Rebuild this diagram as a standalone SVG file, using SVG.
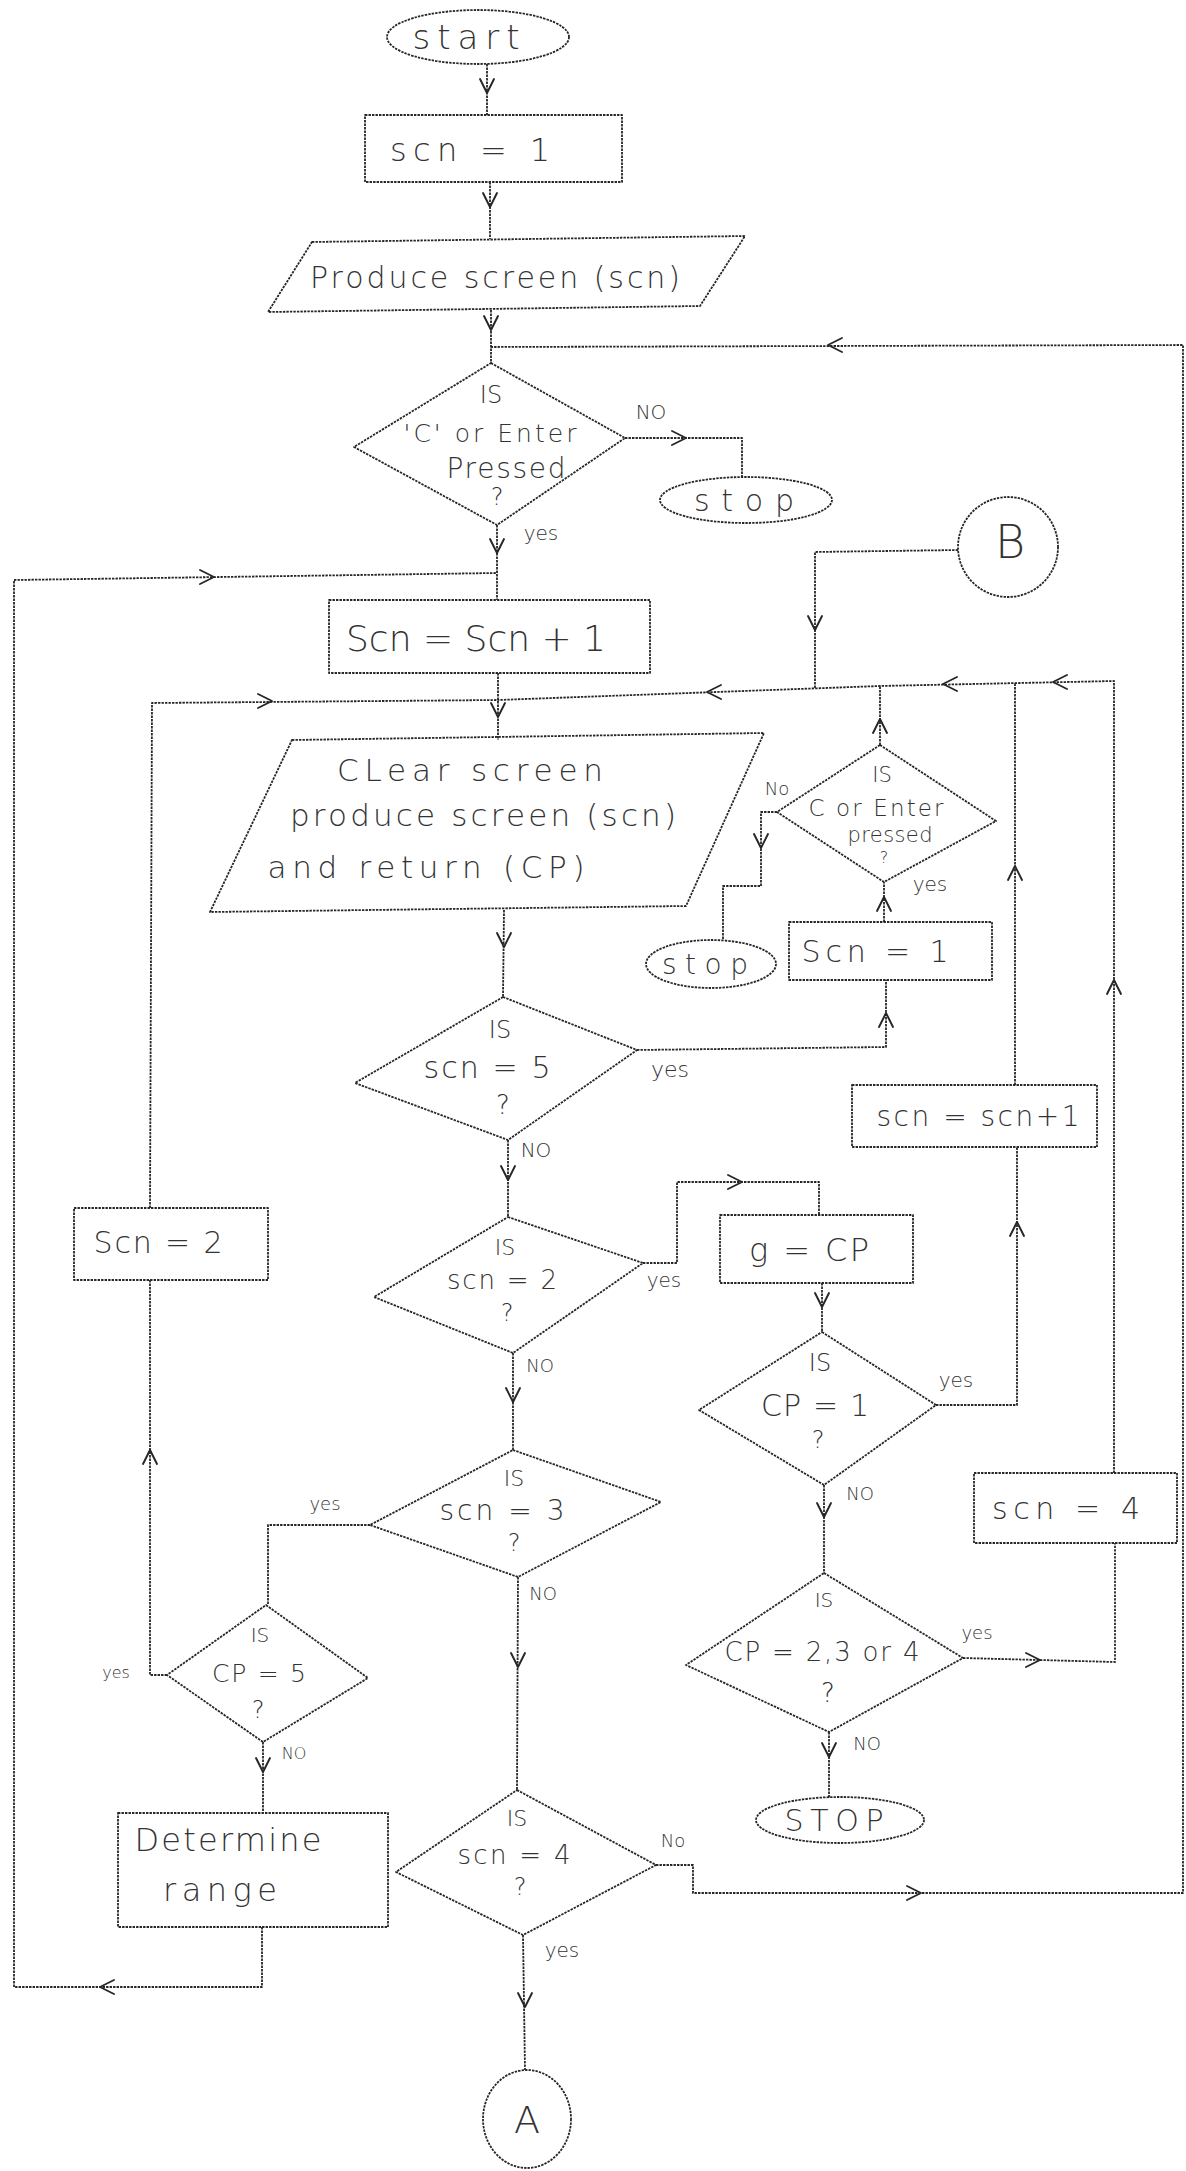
<svg xmlns="http://www.w3.org/2000/svg" xmlns:xlink="http://www.w3.org/1999/xlink" width="1186" height="2171" viewBox="0 0 1186 2171">
  <style>
    .shape { fill: none; stroke: #262626; stroke-width: 1.8; stroke-dasharray: 2.4 1.1; stroke-linejoin: round; }
    .wire { fill: none; stroke: #262626; stroke-width: 1.8; stroke-dasharray: 2.4 1.1; stroke-linejoin: round; }
    .chev { fill: none; stroke: #262626; stroke-width: 1.9; stroke-linecap: round; stroke-linejoin: round; }
    text { font-family: "DejaVu Sans", "Liberation Sans", sans-serif; font-weight: 300; fill: #333333; text-anchor: middle; dominant-baseline: central; }
    .lbl { font-size: 20px; }
  </style>
  <defs>
    <!-- open chevron, tip at origin, pointing down -->
    <path id="chev" class="chev" d="M-7,-14 L0,0 L7,-14"/>
  </defs>
  <rect width="1186" height="2171" fill="#ffffff"/>

  <!-- connectors -->
  <g id="connectors">
    <path class="wire" d="M487,64 L487,115"/>
    <use xlink:href="#chev" transform="translate(487,93)"/>
    <path class="wire" d="M490,182 L490,239"/>
    <use xlink:href="#chev" transform="translate(490,207)"/>
    <path class="wire" d="M491,310 L491,363"/>
    <use xlink:href="#chev" transform="translate(491,330)"/>

    <!-- scn = 4 "No" branch back round the right edge to the first test -->
    <path class="wire" d="M656,1865 L693,1865 L693,1893 L1183,1893 L1183,345 L491,347"/>
    <use xlink:href="#chev" transform="translate(921,1893) rotate(-90)"/>
    <use xlink:href="#chev" transform="translate(828,345) rotate(90)"/>

    <!-- first test: No -> stop -->
    <path class="wire" d="M625,438 L742,438 L742,477"/>
    <use xlink:href="#chev" transform="translate(686,438) rotate(-90)"/>
    <!-- first test: yes -> scn = scn + 1 -->
    <path class="wire" d="M497,525 L497,600"/>
    <use xlink:href="#chev" transform="translate(497,553)"/>

    <!-- Determine range -> back round the left edge -->
    <path class="wire" d="M262,1927 L262,1987 L14,1987 L14,580 L497,573"/>
    <use xlink:href="#chev" transform="translate(100,1987) rotate(90)"/>
    <use xlink:href="#chev" transform="translate(214,577) rotate(-90)"/>

    <!-- scn = scn + 1 -> clear screen -->
    <path class="wire" d="M498,673 L498,740"/>
    <use xlink:href="#chev" transform="translate(498,717)"/>

    <!-- CP = 5 yes -> scn = 2 -> join above clear screen -->
    <path class="wire" d="M167,1675 L150,1675 L150,1280"/>
    <use xlink:href="#chev" transform="translate(150,1450) rotate(180)"/>
    <path class="wire" d="M150,1208 L152,703 L498,700"/>
    <use xlink:href="#chev" transform="translate(272,701) rotate(-90)"/>

    <!-- connector B -->
    <path class="wire" d="M958,550 L815,552 L815,688"/>
    <use xlink:href="#chev" transform="translate(815,630)"/>

    <!-- CP = 2,3 or 4 yes -> scn = 4 -> top return line -->
    <path class="wire" d="M963,1658 L1115,1662 L1115,1543"/>
    <use xlink:href="#chev" transform="translate(1040,1660) rotate(-90)"/>
    <path class="wire" d="M1114,1473 L1114,681 L880,686 L498,700"/>
    <use xlink:href="#chev" transform="translate(1114,980) rotate(180)"/>
    <use xlink:href="#chev" transform="translate(1053,682) rotate(90)"/>
    <use xlink:href="#chev" transform="translate(943,684) rotate(90)"/>
    <use xlink:href="#chev" transform="translate(707,692) rotate(90)"/>

    <!-- scn = scn+1 (right) -> return line -->
    <path class="wire" d="M1015,1085 L1015,683"/>
    <use xlink:href="#chev" transform="translate(1015,866) rotate(180)"/>
    <!-- CP = 1 yes -> scn = scn+1 -->
    <path class="wire" d="M936,1405 L1017,1405 L1017,1147"/>
    <use xlink:href="#chev" transform="translate(1017,1222) rotate(180)"/>

    <!-- C or Enter test -->
    <path class="wire" d="M880,745 L880,686"/>
    <use xlink:href="#chev" transform="translate(880,719) rotate(180)"/>
    <path class="wire" d="M777,812 L761,812 L761,886 L723,886 L723,940"/>
    <use xlink:href="#chev" transform="translate(761,848)"/>
    <path class="wire" d="M884,922 L884,882"/>
    <use xlink:href="#chev" transform="translate(884,897) rotate(180)"/>

    <!-- scn = 5 yes -> Scn = 1 -->
    <path class="wire" d="M637,1050 L886,1047 L886,980"/>
    <use xlink:href="#chev" transform="translate(886,1013) rotate(180)"/>

    <!-- main column -->
    <path class="wire" d="M504,910 L503,997"/>
    <use xlink:href="#chev" transform="translate(504,947)"/>
    <path class="wire" d="M508,1140 L508,1217"/>
    <use xlink:href="#chev" transform="translate(508,1180)"/>
    <path class="wire" d="M513,1353 L513,1450"/>
    <use xlink:href="#chev" transform="translate(513,1402)"/>
    <path class="wire" d="M518,1577 L517,1790"/>
    <use xlink:href="#chev" transform="translate(518,1667)"/>
    <path class="wire" d="M523,1935 L525,2070"/>
    <use xlink:href="#chev" transform="translate(525,2007)"/>

    <!-- scn = 2 yes -> g = CP -->
    <path class="wire" d="M643,1263 L677,1263 L677,1182 L819,1182 L819,1215"/>
    <use xlink:href="#chev" transform="translate(742,1182) rotate(-90)"/>
    <path class="wire" d="M822,1283 L822,1332"/>
    <use xlink:href="#chev" transform="translate(822,1307)"/>
    <path class="wire" d="M824,1485 L824,1573"/>
    <use xlink:href="#chev" transform="translate(824,1517)"/>
    <path class="wire" d="M829,1732 L829,1798"/>
    <use xlink:href="#chev" transform="translate(829,1757)"/>

    <!-- scn = 3 yes -> CP = 5 -> Determine range -->
    <path class="wire" d="M370,1525 L268,1525 L268,1605"/>
    <path class="wire" d="M263,1742 L263,1813"/>
    <use xlink:href="#chev" transform="translate(263,1772)"/>

    <!-- branch labels -->
    <text class="lbl" x="651" y="412">NO</text>
    <text class="lbl" x="541" y="533">yes</text>
    <text class="lbl" x="777" y="788" style="font-size:18px">No</text>
    <text class="lbl" x="930" y="884">yes</text>
    <text class="lbl" x="670" y="1069" style="font-size:22px">yes</text>
    <text class="lbl" x="536" y="1150">NO</text>
    <text class="lbl" x="664" y="1280">yes</text>
    <text class="lbl" x="540" y="1365" style="font-size:18px">NO</text>
    <text class="lbl" x="956" y="1380">yes</text>
    <text class="lbl" x="860" y="1493" style="font-size:18px">NO</text>
    <text class="lbl" x="325" y="1503" style="font-size:18px">yes</text>
    <text class="lbl" x="543" y="1593" style="font-size:18px">NO</text>
    <text class="lbl" x="116" y="1672" style="font-size:16px">yes</text>
    <text class="lbl" x="294" y="1753" style="font-size:16px">NO</text>
    <text class="lbl" x="977" y="1632" style="font-size:18px">yes</text>
    <text class="lbl" x="867" y="1743" style="font-size:18px">NO</text>
    <text class="lbl" x="673" y="1840" style="font-size:18px">No</text>
    <text class="lbl" x="562" y="1950">yes</text>
  </g>

  <!-- nodes -->
  <g id="start">
    <ellipse class="shape" cx="478" cy="37" rx="91" ry="27"/>
    <text x="466" y="37" font-size="34" textLength="107" lengthAdjust="spacing">start</text>
  </g>
  <g id="set-scn-1">
    <rect class="shape" x="365" y="115" width="257" height="67"/>
    <text x="470" y="150" font-size="32" textLength="160" lengthAdjust="spacing">scn = 1</text>
  </g>
  <g id="produce-screen">
    <polygon class="shape" points="312,242 745,236 700,306 268,312"/>
    <text x="495" y="277" font-size="30" textLength="370" lengthAdjust="spacing">Produce screen (scn)</text>
  </g>
  <g id="test-c-enter">
    <polygon class="shape" points="491,363 625,438 497,525 354,447"/>
    <text x="491" y="395" font-size="24">IS</text>
    <text x="490" y="433" font-size="25" textLength="173" lengthAdjust="spacing">'C' or Enter</text>
    <text x="506" y="468" font-size="28" textLength="119" lengthAdjust="spacing">Pressed</text>
    <text x="497" y="497" font-size="24">?</text>
  </g>
  <g id="stop-1">
    <ellipse class="shape" cx="746" cy="500" rx="86" ry="23"/>
    <text x="744" y="500" font-size="30" textLength="100" lengthAdjust="spacing">stop</text>
  </g>
  <g id="scn-inc">
    <rect class="shape" x="329" y="600" width="321" height="73"/>
    <text x="476" y="638" font-size="36" textLength="260" lengthAdjust="spacing">Scn = Scn + 1</text>
  </g>
  <g id="clear-screen">
    <polygon class="shape" points="292,740 764,733 686,906 210,912"/>
    <text x="470" y="770" font-size="31" textLength="266" lengthAdjust="spacing">CLear screen</text>
    <text x="483" y="815" font-size="31" textLength="386" lengthAdjust="spacing">produce screen (scn)</text>
    <text x="426" y="867" font-size="31" textLength="317" lengthAdjust="spacing">and return (CP)</text>
  </g>
  <g id="connector-b">
    <circle class="shape" cx="1008" cy="547" r="50"/>
    <text x="1010" y="542" font-size="46">B</text>
  </g>
  <g id="test-c-enter-2">
    <polygon class="shape" points="880,745 996,821 884,882 777,812"/>
    <text x="882" y="775" font-size="21">IS</text>
    <text x="876" y="808" font-size="23" textLength="135" lengthAdjust="spacing">C or Enter</text>
    <text x="890" y="835" font-size="21" textLength="85" lengthAdjust="spacing">pressed</text>
    <text x="884" y="857" font-size="16">?</text>
  </g>
  <g id="stop-2">
    <ellipse class="shape" cx="711" cy="964" rx="65" ry="24"/>
    <text x="705" y="964" font-size="28" textLength="86" lengthAdjust="spacing">stop</text>
  </g>
  <g id="reset-scn-1">
    <rect class="shape" x="789" y="922" width="203" height="58"/>
    <text x="875" y="951" font-size="30" textLength="147" lengthAdjust="spacing">Scn = 1</text>
  </g>
  <g id="test-scn-5">
    <polygon class="shape" points="503,997 637,1050 508,1140 355,1083"/>
    <text x="500" y="1030" font-size="24">IS</text>
    <text x="487" y="1067" font-size="30" textLength="127" lengthAdjust="spacing">scn = 5</text>
    <text x="503" y="1105" font-size="26">?</text>
  </g>
  <g id="scn-next">
    <rect class="shape" x="852" y="1085" width="245" height="62"/>
    <text x="978" y="1116" font-size="28" textLength="203" lengthAdjust="spacing">scn = scn+1</text>
  </g>
  <g id="set-scn-2">
    <rect class="shape" x="74" y="1208" width="194" height="72"/>
    <text x="158" y="1242" font-size="30" textLength="129" lengthAdjust="spacing">Scn = 2</text>
  </g>
  <g id="test-scn-2">
    <polygon class="shape" points="508,1217 643,1263 513,1353 374,1297"/>
    <text x="505" y="1247" font-size="22">IS</text>
    <text x="502" y="1280" font-size="26" textLength="110" lengthAdjust="spacing">scn = 2</text>
    <text x="507" y="1313" font-size="24">?</text>
  </g>
  <g id="set-g">
    <rect class="shape" x="720" y="1215" width="193" height="68"/>
    <text x="809" y="1250" font-size="32" textLength="120" lengthAdjust="spacing">g = CP</text>
  </g>
  <g id="test-cp-1">
    <polygon class="shape" points="822,1332 936,1405 824,1485 699,1410"/>
    <text x="820" y="1363" font-size="24">IS</text>
    <text x="815" y="1405" font-size="30" textLength="108" lengthAdjust="spacing">CP = 1</text>
    <text x="818" y="1440" font-size="24">?</text>
  </g>
  <g id="set-scn-4">
    <rect class="shape" x="974" y="1473" width="203" height="70"/>
    <text x="1066" y="1508" font-size="30" textLength="148" lengthAdjust="spacing">scn = 4</text>
  </g>
  <g id="test-scn-3">
    <polygon class="shape" points="513,1450 661,1502 518,1577 370,1525"/>
    <text x="514" y="1478" font-size="22">IS</text>
    <text x="502" y="1510" font-size="28" textLength="125" lengthAdjust="spacing">scn = 3</text>
    <text x="514" y="1543" font-size="24">?</text>
  </g>
  <g id="test-cp-5">
    <polygon class="shape" points="266,1605 368,1678 263,1742 167,1675"/>
    <text x="260" y="1635" font-size="20">IS</text>
    <text x="259" y="1673" font-size="25" textLength="94" lengthAdjust="spacing">CP = 5</text>
    <text x="258" y="1710" font-size="24">?</text>
  </g>
  <g id="test-cp-234">
    <polygon class="shape" points="824,1573 963,1658 829,1732 686,1665"/>
    <text x="824" y="1600" font-size="20">IS</text>
    <text x="822" y="1652" font-size="26" textLength="195" lengthAdjust="spacing">CP = 2,3 or 4</text>
    <text x="828" y="1693" font-size="26">?</text>
  </g>
  <g id="stop-3">
    <ellipse class="shape" cx="840" cy="1820" rx="84" ry="23"/>
    <text x="834" y="1820" font-size="30" textLength="99" lengthAdjust="spacing">STOP</text>
  </g>
  <g id="determine-range">
    <rect class="shape" x="118" y="1813" width="270" height="114"/>
    <text x="228" y="1840" font-size="32" textLength="187" lengthAdjust="spacing">Determine</text>
    <text x="220" y="1890" font-size="32" textLength="114" lengthAdjust="spacing">range</text>
  </g>
  <g id="test-scn-4">
    <polygon class="shape" points="517,1790 656,1865 523,1935 396,1872"/>
    <text x="517" y="1818" font-size="22">IS</text>
    <text x="514" y="1855" font-size="26" textLength="113" lengthAdjust="spacing">scn = 4</text>
    <text x="520" y="1887" font-size="24">?</text>
  </g>
  <g id="connector-a">
    <ellipse class="shape" cx="527" cy="2119" rx="44" ry="49"/>
    <text x="527" y="2120" font-size="38">A</text>
  </g>
</svg>
